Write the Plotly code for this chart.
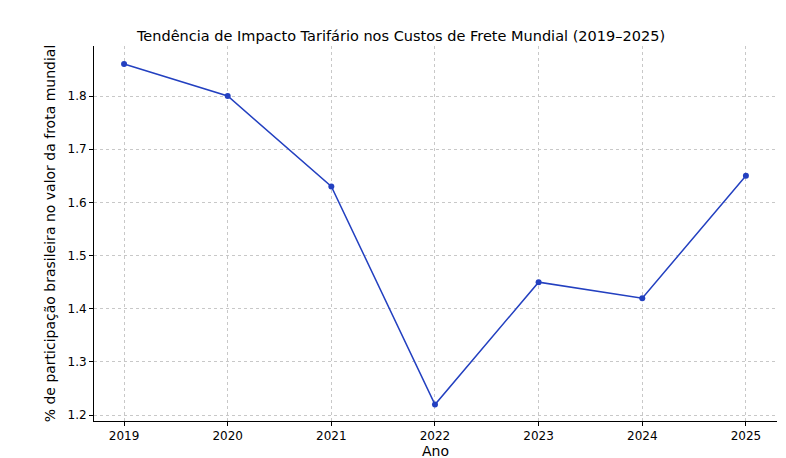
import plotly.graph_objects as go

anos = [2019, 2020, 2021, 2022, 2023, 2024, 2025]
valores = [1.86, 1.80, 1.63, 1.22, 1.45, 1.42, 1.65]

fig = go.Figure(go.Scatter(x=anos, y=valores, mode="lines+markers",
    line=dict(color="#2340c0", width=1.5), marker=dict(color="#2340c0", size=6)))

ax = dict(showline=True, linecolor="black", linewidth=1, ticks="outside", ticklen=4,
          tickcolor="black", showgrid=True, gridcolor="#c8c8c8", griddash="dot",
          gridwidth=0.7, zeroline=False, mirror=False, automargin=False)
fig.update_layout(
    width=786, height=458, plot_bgcolor="white", paper_bgcolor="white",
    margin=dict(l=86, r=17, t=38, b=45),
    font=dict(family="DejaVu Sans", size=12, color="black"),
    title=dict(text="Tendência de Impacto Tarifário nos Custos de Frete Mundial (2019–2025)",
               x=0.5, xanchor="center", y=0.94, yanchor="middle", font=dict(size=14.5),
               automargin=False),
    showlegend=False,
    xaxis=dict(ax, range=[2018.71, 2025.3], tickvals=anos,
               title=dict(text="Ano", standoff=2)),
    yaxis=dict(ax, range=[1.189, 1.894], tickvals=[1.2,1.3,1.4,1.5,1.6,1.7,1.8],
               tickformat=".1f",
               title=dict(text="% de participação brasileira no valor da frota mundial", standoff=8)),
)
fig.write_html("out.html")
